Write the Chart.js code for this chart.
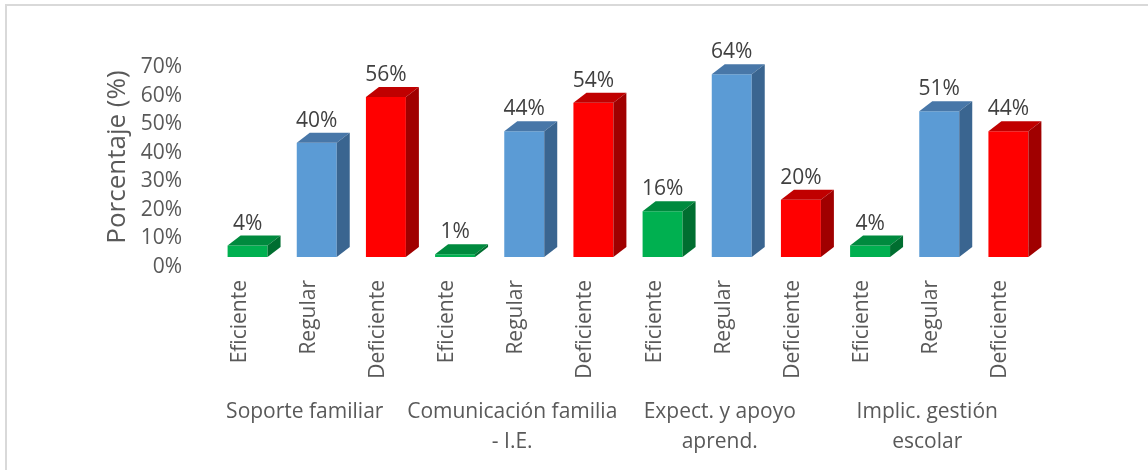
<!DOCTYPE html>
<html>
<head>
<meta charset="utf-8">
<script src="https://cdn.jsdelivr.net/npm/chart.js@4.4.1/dist/chart.umd.min.js"></script>
<style>
  body { margin: 0; background: #fff; }
  #wrap { position: relative; width: 1148px; height: 470px; overflow: hidden; }
  #frame { position: absolute; left: 5px; top: 4px; width: 1200px; height: 500px;
           border-top: 2px solid #d9d9d9; border-left: 2px solid #d9d9d9; }
  canvas { position: absolute; left: 0; top: 0; }
</style>
</head>
<body>
<div id="wrap"><div id="frame"></div><canvas id="chart" width="1148" height="470"></canvas></div>
<script>
// categories
const levels = ["Eficiente", "Regular", "Deficiente"];
const groups = [
    ["Soporte familiar"],
    ["Comunicación familia", "- I.E."],
    ["Expect. y apoyo", "aprend."],
    ["Implic. gestión", "escolar"]
];

// values (%) per group, in the order of levels
const soporteFamiliar = [4, 40, 56];
const comunicacionFamilia = [1, 44, 54];
const expectApoyo = [16, 64, 20];
const implicGestion = [4, 51, 44];

const yMax = 70;
const yStep = 10;

// build flat lists for the library
const labels = groups.flatMap(() => levels);
const values = [soporteFamiliar, comunicacionFamilia, expectApoyo, implicGestion].flat();

// colours: front, top, side for each level
const frontColors = ["#00B050", "#5B9BD5", "#FF0000"];
const topColors = ["#008A3E", "#4877A8", "#C00000"];
const sideColors = ["#006E30", "#3A6590", "#A00000"];

const FONT = "'Open Sans', 'Noto Sans', sans-serif";
const DX = 13, DY = 10; // depth of the fake 3d

const bars3d = {
    id: "bars3d",
    afterDatasetsDraw(chart) {
        const ctx = chart.ctx;
        const meta = chart.getDatasetMeta(0);
        ctx.save();
        meta.data.forEach((bar, i) => {
            const p = bar.getProps(["x", "y", "base", "width"], true);
            const lvl = i % 3;
            const l = p.x - p.width / 2, r = p.x + p.width / 2, t = p.y, b = p.base;

            ctx.fillStyle = topColors[lvl];
            ctx.beginPath();
            ctx.moveTo(l, t);
            ctx.lineTo(l + DX, t - DY);
            ctx.lineTo(r + DX, t - DY);
            ctx.lineTo(r, t);
            ctx.closePath();
            ctx.fill();

            ctx.fillStyle = sideColors[lvl];
            ctx.beginPath();
            ctx.moveTo(r, t);
            ctx.lineTo(r + DX, t - DY);
            ctx.lineTo(r + DX, b - DY);
            ctx.lineTo(r, b);
            ctx.closePath();
            ctx.fill();

            // data label
            ctx.fillStyle = "#404040";
            ctx.font = "21px " + FONT;
            ctx.textAlign = "center";
            ctx.textBaseline = "alphabetic";
            ctx.fillText(values[i] + "%", p.x, t - DY - 6);
        });
        ctx.restore();
    }
};

// second level of category labels
const groupLabels = {
    id: "groupLabels",
    afterDraw(chart) {
        const ctx = chart.ctx;
        const xs = chart.scales.x;
        ctx.save();
        ctx.fillStyle = "#595959";
        ctx.font = "21px " + FONT;
        ctx.textAlign = "center";
        ctx.textBaseline = "middle";
        groups.forEach((lines, g) => {
            const cx = (xs.getPixelForValue(g * 3) + xs.getPixelForValue(g * 3 + 2)) / 2 - 12;
            lines.forEach((txt, k) => {
                ctx.fillText(txt, cx, xs.bottom + 34 + k * 30);
            });
        });
        ctx.restore();
    }
};

new Chart(document.getElementById("chart").getContext("2d"), {
    type: "bar",
    data: {
        labels: labels,
        datasets: [{
            data: values,
            backgroundColor: labels.map((_, i) => frontColors[i % 3]),
            borderWidth: 0,
            barPercentage: 0.578,
            categoryPercentage: 1.0
        }]
    },
    options: {
        responsive: false,
        animation: false,
        layout: { padding: { left: 98, right: 105, top: 57, bottom: 92 } },
        plugins: {
            legend: { display: false },
            tooltip: { enabled: false }
        },
        scales: {
            x: {
                grid: { display: false, drawTicks: false },
                border: { display: false },
                afterFit: s => { s.height = 121; },
                ticks: {
                    color: "#595959",
                    font: { family: FONT, size: 21 },
                    minRotation: 90,
                    maxRotation: 90,
                    padding: 23,
                    labelOffset: -8,
                    autoSkip: false
                }
            },
            y: {
                min: 0,
                max: yMax,
                grid: { display: false, drawTicks: false },
                border: { display: false },
                afterFit: s => { s.width = 115; },
                ticks: {
                    stepSize: yStep,
                    autoSkip: false,
                    color: "#595959",
                    font: { family: FONT, size: 21 },
                    padding: 31,
                    labelOffset: 10,
                    callback: v => v + "%"
                },
                title: {
                    display: true,
                    text: "Porcentaje (%)",
                    color: "#595959",
                    font: { family: FONT, size: 26 }
                }
            }
        }
    },
    plugins: [bars3d, groupLabels]
});
</script>
</body>
</html>
